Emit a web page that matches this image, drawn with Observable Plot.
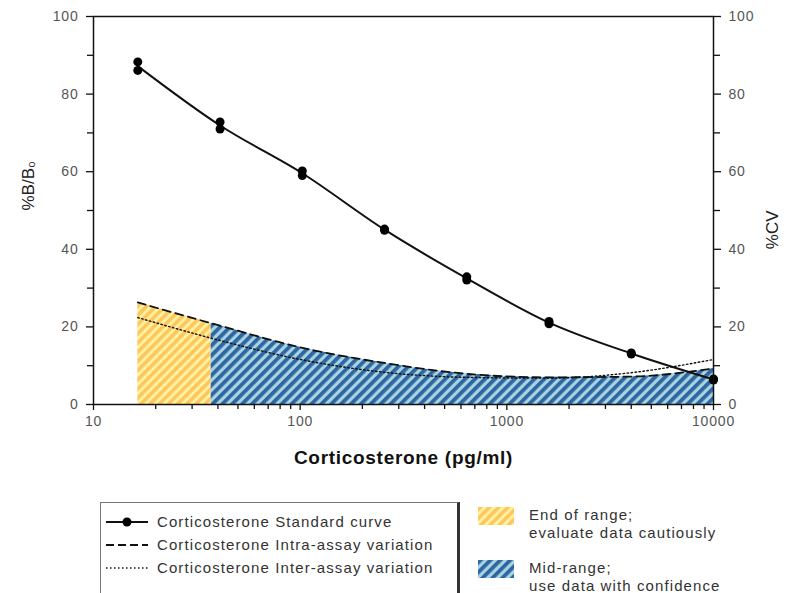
<!DOCTYPE html>
<html><head><meta charset="utf-8">
<script src="https://cdn.jsdelivr.net/npm/d3@7"></script>
<script src="https://cdn.jsdelivr.net/npm/@observablehq/plot@0.6"></script>
<style>
body{margin:0;background:#fff;font-family:"Liberation Sans",Arial,sans-serif;}
#wrap{position:relative;width:791px;height:593px;overflow:hidden;}
#chart{position:absolute;left:0;top:0;}
g[aria-label$="tick label"]{fill:#555;letter-spacing:0.8px;}
.leg{position:absolute;font-size:15px;letter-spacing:1.1px;color:#333;white-space:nowrap;line-height:18px;}
#box{position:absolute;left:100px;top:502px;width:356px;height:110px;border:1px solid #777;border-right:3px solid #333;}
</style></head><body>
<div id="wrap"><div id="chart"></div><div id="box"></div><div id="legend"></div></div>
<script>
// ---- data ----
const concentrations = [16.38, 40.96, 102.4, 256, 640, 1600, 4000, 10000];
const replicateA = [88.3, 72.8, 60.2, 45.2, 32.9, 21.4, 13.3, 6.6];
const replicateB = [86.1, 71.0, 59.0, 44.9, 32.1, 20.8, 13.0, 6.3];
const intraCV = [26.3, 20.3, 14.6, 10.7, 7.9, 7.0, 7.2, 9.3];
const interCV = [22.4, 16.5, 11.5, 8.3, 7.0, 6.8, 8.2, 11.6];
const endOfRangeLimit = 37;
const yTicks = [0, 20, 40, 60, 80, 100];
const yMinorTicks = [10, 30, 50, 70, 90];
const xTicks = [10, 100, 1000, 10000];
const xMinorTicks = [20,30,40,50,60,70,80,90,200,300,400,500,600,700,800,900,2000,3000,4000,5000,6000,7000,8000,9000];
const seriesLabels = ["Corticosterone Standard curve", "Corticosterone Intra-assay variation", "Corticosterone Inter-assay variation"];
const rangeLabels = [["End of range;", "evaluate data cautiously"], ["Mid-range;", "use data with confidence"]];

const rows = concentrations.map((c, i) => ({conc: c, mean: (replicateA[i] + replicateB[i]) / 2, intra: intraCV[i], inter: interCV[i]}));
const points = concentrations.flatMap((c, i) => [{conc: c, v: replicateA[i]}, {conc: c, v: replicateB[i]}]);
const curve = "monotone-x";

const chart = Plot.plot({
  width: 791, height: 480,
  marginTop: 16, marginBottom: 76, marginLeft: 93, marginRight: 78,
  style: {fontFamily: "'Liberation Sans', Arial, sans-serif", fontSize: "14px", background: "white", overflow: "visible"},
  x: {type: "log", domain: [10, 10000], axis: null},
  y: {domain: [0, 100], axis: null},
  marks: [
    Plot.areaY(rows, {x: "conc", y: "intra", fill: "url(#hatchBlue)", curve}),
    Plot.areaY(rows, {x: "conc", y: "intra", fill: "url(#hatchOrange)", curve}),
    Plot.line(rows, {x: "conc", y: "inter", stroke: "#111", strokeWidth: 1.4, strokeDasharray: "1.5,2.5", curve}),
    Plot.line(rows, {x: "conc", y: "intra", stroke: "#111", strokeWidth: 1.8, strokeDasharray: "8,5", curve}),
    Plot.line(rows, {x: "conc", y: "mean", stroke: "#111", strokeWidth: 2, curve}),
    Plot.dot(points, {x: "conc", y: "v", r: 4.5, fill: "#000"}),
    Plot.frame({stroke: "#111", strokeWidth: 1.5}),
    Plot.axisY(yTicks, {anchor: "left", tickSize: 7, tickPadding: 8, label: null, stroke: "#111", strokeWidth: 1.3}),
    Plot.axisY(yMinorTicks, {anchor: "left", tickSize: 6, tickFormat: () => "", label: null, stroke: "#111", strokeWidth: 1.3}),
    Plot.axisY(yTicks, {anchor: "right", tickSize: 7, tickPadding: 8, label: null, stroke: "#111", strokeWidth: 1.3}),
    Plot.axisY(yMinorTicks, {anchor: "right", tickSize: 6, tickFormat: () => "", label: null, stroke: "#111", strokeWidth: 1.3}),
    Plot.axisX(xTicks, {anchor: "bottom", tickSize: 6, tickPadding: 6, tickFormat: d => String(d), label: null, stroke: "#111", strokeWidth: 1.3}),
    Plot.axisX(xMinorTicks, {anchor: "bottom", tickSize: 5, tickFormat: () => "", label: null, stroke: "#111", strokeWidth: 1.3}),
    Plot.text(["Corticosterone (pg/ml)"], {frameAnchor: "bottom", dy: 59, fontSize: 19, fontWeight: "bold", fill: "#111"}),
    Plot.text(["%B/B\u2080"], {frameAnchor: "left", dx: -65, rotate: -90, fontSize: 17, fill: "#222"}),
    Plot.text(["%CV"], {frameAnchor: "right", dx: 59, rotate: -90, fontSize: 17, fill: "#222"})
  ]
});

const ns = "http://www.w3.org/2000/svg";
const defs = document.createElementNS(ns, "defs");
const xs = chart.scale("x");
const cut = xs.apply(endOfRangeLimit);
defs.innerHTML = `
<pattern id="hatchOrange" patternUnits="userSpaceOnUse" width="6.5" height="6.5" patternTransform="rotate(45)">
  <rect width="6.5" height="6.5" fill="#FFF2A0"/><rect width="3.6" height="6.5" fill="#FFC65E"/>
</pattern>
<pattern id="hatchBlue" patternUnits="userSpaceOnUse" width="7" height="7" patternTransform="rotate(45)">
  <rect width="7" height="7" fill="#AAD2DF"/><rect width="3.8" height="7" fill="#2D67A3"/>
</pattern>
<clipPath id="endClip"><rect x="0" y="0" width="${cut}" height="480"/></clipPath>
<clipPath id="midClip"><rect x="${cut}" y="0" width="${791 - cut}" height="480"/></clipPath>`;
chart.insertBefore(defs, chart.firstChild);
chart.querySelectorAll('[fill="url(#hatchOrange)"]').forEach(el => el.setAttribute("clip-path", "url(#endClip)"));
chart.querySelectorAll('[fill="url(#hatchBlue)"]').forEach(el => el.setAttribute("clip-path", "url(#midClip)"));
chart.querySelectorAll("text").forEach(t => {
  if (t.textContent === "Corticosterone (pg/ml)") t.style.letterSpacing = "0.7px";
});
document.getElementById("chart").appendChild(chart);

// ---- legend ----
const leg = document.getElementById("legend");
const rowY = [522, 545, 568];
const samples = [
  `<line x1="2" y1="9" x2="44" y2="9" stroke="#111" stroke-width="2"/><circle cx="23" cy="9" r="4.5" fill="#000"/>`,
  `<line x1="2" y1="9" x2="44" y2="9" stroke="#111" stroke-width="1.8" stroke-dasharray="8,4"/>`,
  `<line x1="2" y1="9" x2="44" y2="9" stroke="#111" stroke-width="1.3" stroke-dasharray="1.5,2.5"/>`
];
seriesLabels.forEach((t, i) => {
  leg.insertAdjacentHTML("beforeend",
    `<svg style="position:absolute;left:104px;top:${rowY[i]-9}px" width="48" height="18">${samples[i]}</svg>` +
    `<div class="leg" style="left:157px;top:${rowY[i]-9}px">${t}</div>`);
});
const swY = [507, 560];
const fills = ["url(#hatchOrange)", "url(#hatchBlue)"];
rangeLabels.forEach((lines, i) => {
  leg.insertAdjacentHTML("beforeend",
    `<svg style="position:absolute;left:478px;top:${swY[i]}px" width="36" height="18"><rect width="36" height="18" fill="${fills[i]}"/></svg>` +
    `<div class="leg" style="left:529px;top:${swY[i]-1}px">${lines[0]}<br>${lines[1]}</div>`);
});
</script>
</body></html>
